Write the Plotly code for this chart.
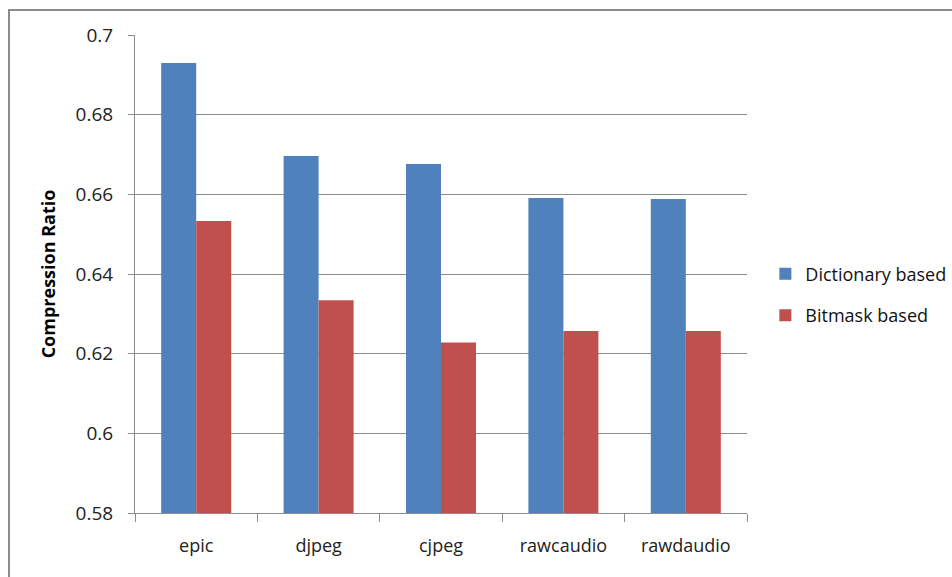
import plotly.graph_objects as go

benchmarks = ["epic", "djpeg", "cjpeg", "rawcaudio", "rawdaudio"]
dictionary_based = [0.6930, 0.6696, 0.6676, 0.6591, 0.6588]
bitmask_based = [0.6533, 0.6334, 0.6228, 0.6257, 0.6257]

y_ticks = [0.58, 0.6, 0.62, 0.64, 0.66, 0.68, 0.7]
y_tick_text = ["0.58", "0.6", "0.62", "0.64", "0.66", "0.68", "0.7"]

FONT = "'Open Sans', sans-serif"
GRID = "#8c8c8c"

fig = go.Figure()
fig.add_trace(go.Bar(
    x=benchmarks, y=dictionary_based, name="Dictionary based",
    marker=dict(color="#4f81bd", line=dict(width=0)),
    legendgroup="a",
))
fig.add_trace(go.Bar(
    x=benchmarks, y=bitmask_based, name="Bitmask based",
    marker=dict(color="#c0504d", line=dict(width=0)),
    legendgroup="b",
))

W, H = 952, 577
L, R, T, B = 135, 747, 35, 513

fig.update_layout(
    width=W, height=H,
    margin=dict(l=L, r=W - R, t=T, b=H - B, pad=0, autoexpand=False),
    paper_bgcolor="white", plot_bgcolor="white",
    barmode="group", bargap=0.428, bargroupgap=0,
    font=dict(family=FONT, color="#222", size=16),
    showlegend=True,
    legend=dict(
        x=1.03, y=0.457, xanchor="left", yanchor="middle",
        font=dict(family=FONT, size=18, color="#111"),
        tracegroupgap=15, itemwidth=30,
        bgcolor="rgba(0,0,0,0)",
    ),
    xaxis=dict(
        type="category", showline=True, linecolor=GRID, linewidth=1,
        ticks="outside", tickson="boundaries", ticklen=8, tickcolor=GRID,
        showgrid=False, tickfont=dict(size=18, family=FONT, color="#222"),
        ticklabelstandoff=16,
    ),
    yaxis=dict(
        range=[0.58, 0.7], tickvals=y_ticks, ticktext=y_tick_text,
        showline=True, linecolor=GRID, linewidth=1,
        ticks="outside", ticklen=6, tickcolor=GRID,
        showgrid=True, gridcolor=GRID, gridwidth=1, zeroline=False,
        tickfont=dict(size=19, family=FONT, color="#222"),
        ticklabelstandoff=11,
        title=dict(text="<b>Compression Ratio</b>", standoff=15,
                   font=dict(size=18, family=FONT, color="#000")),
    ),
    shapes=[dict(
        type="rect", xref="paper", yref="paper",
        x0=(9 - L) / (R - L), x1=1.6,
        y0=-0.3, y1=(B - 10) / (B - T),
        line=dict(color="#8c8c8c", width=2), fillcolor="rgba(0,0,0,0)",
        layer="below",
    )],
)

fig.write_html("out.html")
